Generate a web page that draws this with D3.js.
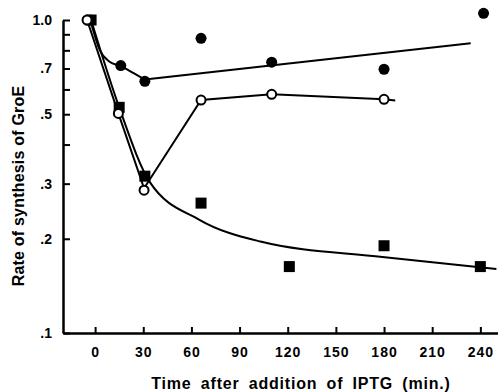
<!DOCTYPE html>
<html>
<head>
<meta charset="utf-8">
<script src="https://cdn.jsdelivr.net/npm/d3@7"></script>
<style>
  body { margin: 0; background: #fff; }
  .text { font-family: "Liberation Sans", Arial, sans-serif; font-weight: bold; fill: #000; }
</style>
</head>
<body>
<div id="chart"></div>
<script>
// Filled circles
const filledTimes = [-3, 16, 31, 66, 110, 180, 242];
const filledValues = [1.0, 0.715, 0.637, 0.874, 0.733, 0.696, 1.05];
// Open circles
const openTimes = [-5, 14.5, 30.5, 66, 110, 180];
const openValues = [1.0, 0.503, 0.286, 0.555, 0.579, 0.558];
// Filled squares
const squareTimes = [-2.5, 15, 31, 66, 121, 180, 240];
const squareValues = [1.0, 0.526, 0.317, 0.26, 0.163, 0.19, 0.163];

// Hand-drawn fit lines
const filledFitTimes = [-3, 3, 9, 16, 24, 31];
const filledFitValues = [1.0, 0.80, 0.736, 0.712, 0.676, 0.645];
const filledTrendTimes = [31, 234];
const filledTrendValues = [0.645, 0.843];
const openFitTimes = [-5, 14.5, 30.5, 66, 110, 180, 187];
const openFitValues = [1.0, 0.503, 0.29, 0.555, 0.579, 0.558, 0.553];
const squareFitTimes = [-2.5, 15, 34, 65, 103, 179, 250];
const squareFitValues = [1.0, 0.526, 0.304, 0.23, 0.196, 0.175, 0.16];

// Axis ticks
const xTicks = [0, 30, 60, 90, 120, 150, 180, 210, 240];
const yTicks = [1, 0.9, 0.8, 0.7, 0.6, 0.5, 0.4, 0.3, 0.2, 0.1];
const yLabelled = [1, 0.7, 0.5, 0.3, 0.2, 0.1];

const width = 498, height = 392;

const svg = d3.select("#chart").append("svg")
    .attr("width", width)
    .attr("height", height);

const xScale = d3.scaleLinear().domain([-20, 251]).range([63, 498]);
const yScale = d3.scaleLog().domain([0.1, 1]).range([333, 20]);

const zip = (ts, vs) => ts.map((t, i) => ({ t, v: vs[i] }));

// Axes
const xAxis = svg.append("g")
    .attr("transform", "translate(0,333)")
    .call(d3.axisBottom(xScale)
        .tickValues(xTicks)
        .tickSizeInner(-6)
        .tickSizeOuter(0)
        .tickPadding(14)
        .tickFormat(d3.format("d")));

const yAxis = svg.append("g")
    .attr("transform", "translate(63,0)")
    .call(d3.axisLeft(yScale)
        .tickValues(yTicks)
        .tickSizeInner(-7)
        .tickSizeOuter(0)
        .tickPadding(11)
        .tickFormat(d => yLabelled.includes(d) ? (d === 1 ? "1.0" : "." + Math.round(d * 10)) : ""));

[xAxis, yAxis].forEach(a => {
    a.select(".domain").attr("stroke", "#000").attr("stroke-width", 2.5);
    a.selectAll(".tick line").attr("stroke", "#000").attr("stroke-width", 2);
    a.selectAll(".tick text").attr("class", "text").style("font-size", "14px");
});
xAxis.selectAll(".tick text").style("letter-spacing", "1px");

// Axis labels
svg.append("text")
    .attr("x", 301)
    .attr("y", 389)
    .attr("text-anchor", "middle")
    .attr("class", "text")
    .style("font-size", "16px")
    .style("letter-spacing", "0.8px")
    .style("word-spacing", "4px")
    .text("Time after addition of IPTG (min.)");

svg.append("text")
    .attr("transform", "translate(24,186) rotate(-90)")
    .attr("text-anchor", "middle")
    .attr("class", "text")
    .style("font-size", "16px")
    .style("letter-spacing", "0.2px")
    .text("Rate of synthesis of GroE");

// Lines
const curved = d3.line().x(d => xScale(d.t)).y(d => yScale(d.v)).curve(d3.curveMonotoneX);
const straight = d3.line().x(d => xScale(d.t)).y(d => yScale(d.v));

const lines = svg.append("g")
    .attr("fill", "none")
    .attr("stroke", "#000")
    .attr("stroke-width", 2);

lines.append("path").attr("d", curved(zip(filledFitTimes, filledFitValues)));
lines.append("path").attr("d", straight(zip(filledTrendTimes, filledTrendValues)));
lines.append("path").attr("d", straight(zip(openFitTimes, openFitValues)));
lines.append("path").attr("d", curved(zip(squareFitTimes, squareFitValues)));

// Markers
svg.append("g").selectAll("rect")
    .data(zip(squareTimes, squareValues))
    .join("rect")
    .attr("x", d => xScale(d.t) - 5.5)
    .attr("y", d => yScale(d.v) - 5.5)
    .attr("width", 11)
    .attr("height", 11)
    .attr("fill", "#000");

svg.append("g").selectAll("circle")
    .data(zip(filledTimes, filledValues))
    .join("circle")
    .attr("cx", d => xScale(d.t))
    .attr("cy", d => yScale(d.v))
    .attr("r", 5.5)
    .attr("fill", "#000");

svg.append("g").selectAll("circle")
    .data(zip(openTimes, openValues))
    .join("circle")
    .attr("cx", d => xScale(d.t))
    .attr("cy", d => yScale(d.v))
    .attr("r", 4.5)
    .attr("fill", "#fff")
    .attr("stroke", "#000")
    .attr("stroke-width", 2);
</script>
</body>
</html>
